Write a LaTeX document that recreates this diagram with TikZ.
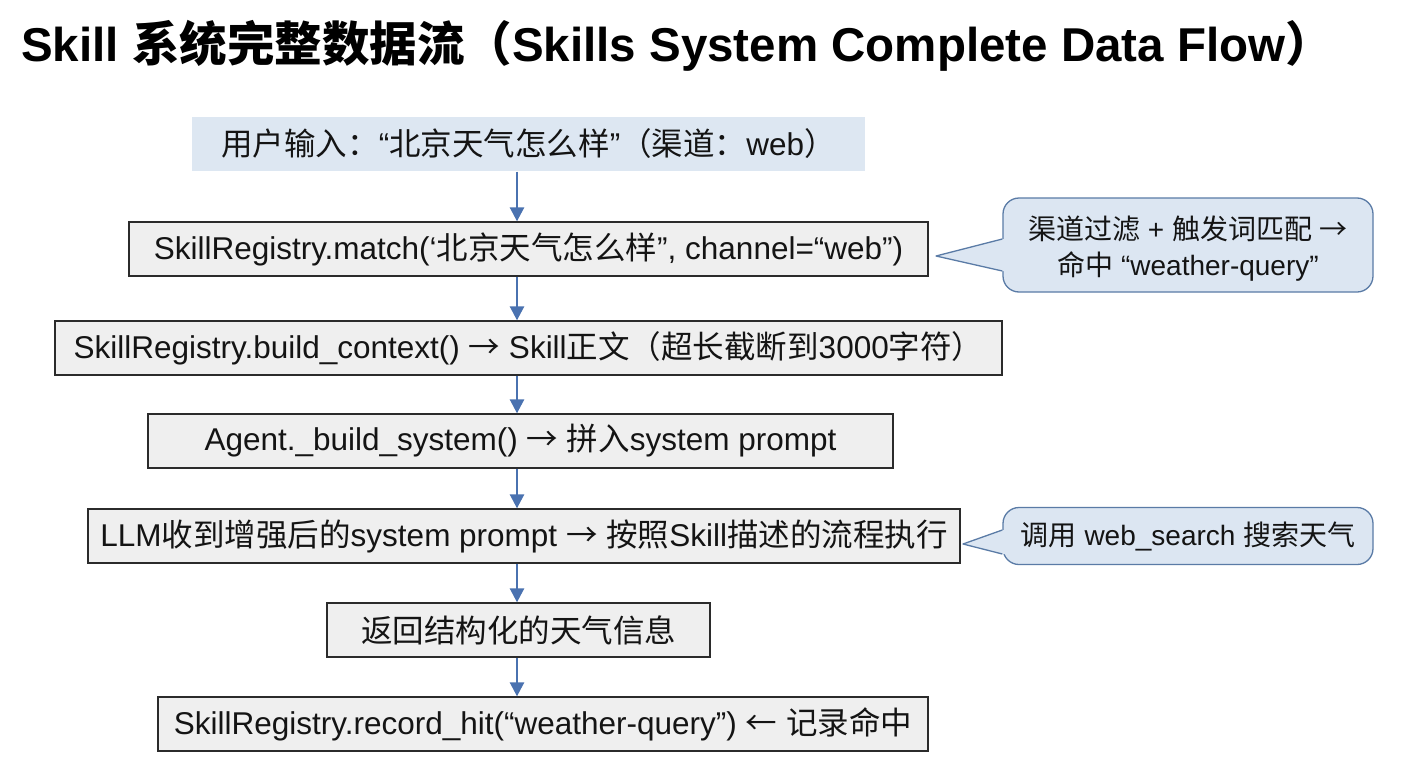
\documentclass[tikz,border=0pt]{standalone}
\usepackage{fontspec}
\setmainfont{Liberation Sans}
\newfontfamily\cjk{Noto Sans CJK SC}
\newcommand\zh[1]{{\cjk #1}}
\newcommand\rarr{\zh{→}}
\newcommand\larr{\zh{←}}
\usetikzlibrary{arrows.meta,calc}
\definecolor{arrowblue}{HTML}{4A72B0}
\definecolor{inputfill}{HTML}{DDE7F2}
\definecolor{boxfill}{HTML}{EFEFEF}
\definecolor{boxborder}{HTML}{2B2B2B}
\definecolor{notefill}{HTML}{DCE6F2}
\definecolor{noteborder}{HTML}{5A7BA6}
\definecolor{textc}{HTML}{141414}
\begin{document}
\begin{tikzpicture}[x=1pt,y=-1pt,
  stepbox/.style={draw=boxborder, fill=boxfill, line width=1.3pt, minimum height=54pt, inner sep=0pt, text=textc, font=\fontsize{31.5}{38}\selectfont},
  inbox/.style={stepbox, draw=none, fill=inputfill},
  notebox/.style={draw=noteborder, fill=notefill, line width=1.3pt, rounded corners=16pt, align=center, inner sep=0pt, text=textc, font=\fontsize{28}{36}\selectfont},
  arr/.style={draw=arrowblue, line width=2.6pt, -{Triangle[width=14pt,length=14pt,fill=arrowblue]}}
]
\useasboundingbox (0,0) rectangle (1408,768);
\fill[white] (0,0) rectangle (1408,768);

\node[anchor=west, inner sep=0pt, text=black, font=\fontsize{47.5}{54}\selectfont\bfseries] (title) at (21,46)
  {Skill \zh{系统完整数据流（}Skills System Complete Data Flow\zh{）}};

\node[inbox, minimum width=673pt] (n1) at (528.5,144)
  {\zh{用户输入：}“\zh{北京天气怎么样}”\zh{（渠道：}web\zh{）}};
\node[stepbox, minimum width=799pt] (n2) at (528.5,249)
  {SkillRegistry.match(‘\zh{北京天气怎么样}”, channel=“web”)};
\node[stepbox, minimum width=947pt] (n3) at (528.5,348)
  {SkillRegistry.build\_context() \rarr{} Skill\zh{正文（超长截断到}3000\zh{字符）}};
\node[stepbox, minimum width=745pt] (n4) at (520.5,441)
  {Agent.\_build\_system() \rarr{} \zh{拼入}system prompt};
\node[stepbox, minimum width=872pt] (n5) at (524,536)
  {LLM\zh{收到增强后的}system prompt \rarr{} \zh{按照}Skill\zh{描述的流程执行}};
\node[stepbox, minimum width=383pt] (n6) at (518.5,630)
  {\zh{返回结构化的天气信息}};
\node[stepbox, minimum width=770pt] (n7) at (543,724)
  {SkillRegistry.record\_hit(“weather-query”) \larr{} \zh{记录命中}};

\coordinate (ax) at (517,0);
\draw[arr] (n1.south -| ax) -- (n2.north -| ax);
\draw[arr] (n2.south -| ax) -- (n3.north -| ax);
\draw[arr] (n3.south -| ax) -- (n4.north -| ax);
\draw[arr] (n4.south -| ax) -- (n5.north -| ax);
\draw[arr] (n5.south -| ax) -- (n6.north -| ax);
\draw[arr] (n6.south -| ax) -- (n7.north -| ax);

% callout 1
\node[notebox, minimum width=370pt, minimum height=94pt] (c1) at (1188,245)
  {\rule{0pt}{30pt}\zh{渠道过滤} + \zh{触发词匹配} \rarr\\\zh{命中} “weather-query”};
\coordinate (t1) at (936,256);
\path (c1.west) ++(0,-6) coordinate (p1) ++(0,32) coordinate (p2);
\fill[notefill] (p1) -- (t1) -- (p2) -- ([xshift=3pt]p2) -- ([xshift=3pt]p1) -- cycle;
\draw[noteborder, line width=1.3pt, line join=round] (p1) -- (t1) -- (p2);

% callout 2
\node[notebox, minimum width=370pt, minimum height=57pt] (c2) at (1188,536)
  {\zh{调用} web\_search \zh{搜索天气}};
\coordinate (t2) at (963,544);
\path (c2.west) ++(0,-6) coordinate (q1) ++(0,24) coordinate (q2);
\fill[notefill] (q1) -- (t2) -- (q2) -- ([xshift=3pt]q2) -- ([xshift=3pt]q1) -- cycle;
\draw[noteborder, line width=1.3pt, line join=round] (q1) -- (t2) -- (q2);
\end{tikzpicture}
\end{document}
